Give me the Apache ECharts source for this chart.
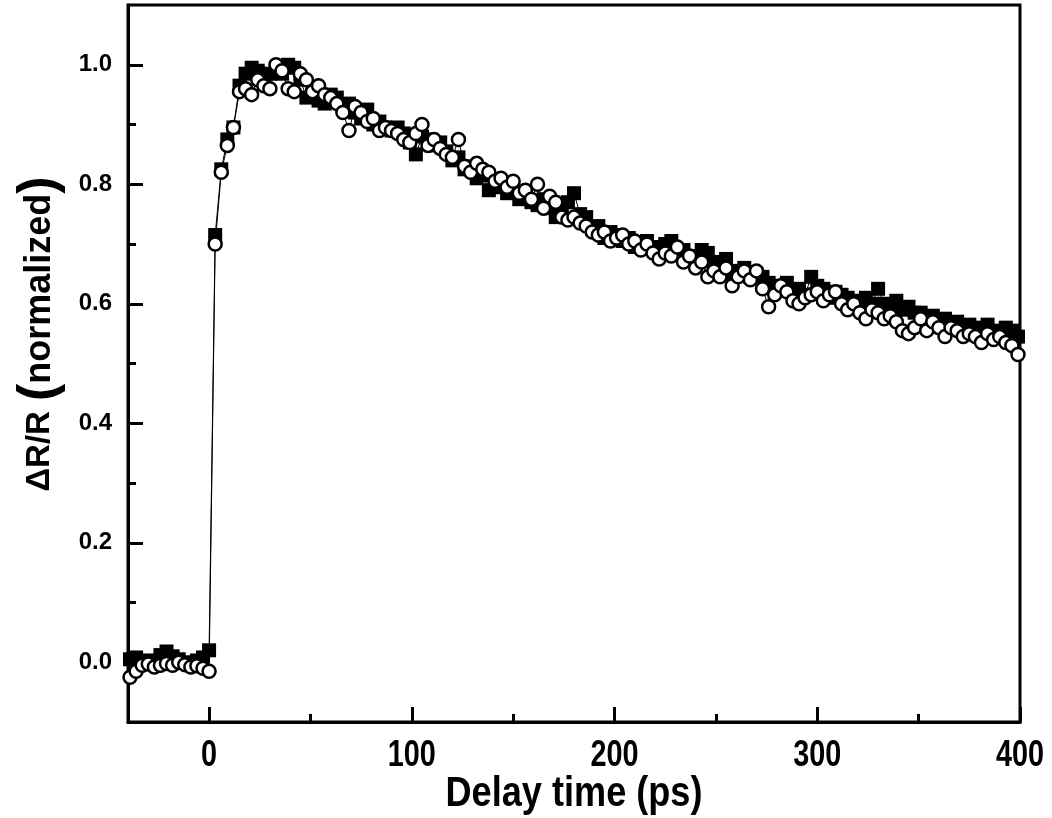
<!DOCTYPE html>
<html>
<head>
<meta charset="utf-8">
<title>Delay time</title>
<script src="https://cdn.jsdelivr.net/npm/echarts@6/dist/echarts.min.js"></script>
<style>
  html, body { margin: 0; padding: 0; background: #fff; }
  #main { width: 1052px; height: 818px; }
</style>
</head>
<body>
<div id="main"></div>
<script>
// delay times (ps), one point each 3 ps
var times = [
  -39, -36, -33, -30, -27, -24, -21, -18, -15, -12, -9, -6, -3,
  0, 3, 6, 9, 12, 15, 18, 21, 24, 27, 30, 33, 36, 39, 42, 45, 48,
  51, 54, 57, 60, 63, 66, 69, 72, 75, 78, 81, 84, 87, 90, 93, 96, 99,
  102, 105, 108, 111, 114, 117, 120, 123, 126, 129, 132, 135, 138, 141, 144, 147, 150,
  153, 156, 159, 162, 165, 168, 171, 174, 177, 180, 183, 186, 189, 192, 195, 198,
  201, 204, 207, 210, 213, 216, 219, 222, 225, 228, 231, 234, 237, 240, 243, 246, 249,
  252, 255, 258, 261, 264, 267, 270, 273, 276, 279, 282, 285, 288, 291, 294, 297, 300,
  303, 306, 309, 312, 315, 318, 321, 324, 327, 330, 333, 336, 339, 342, 345, 348,
  351, 354, 357, 360, 363, 366, 369, 372, 375, 378, 381, 384, 387, 390, 393, 396, 399
];

// filled squares
var squares = [
  0.005, 0.008, 0.0, 0.003, 0.0, 0.012, 0.018, 0.01, 0.005, 0.0, -0.002, 0.003, 0.008,
  0.02, 0.715, 0.825, 0.875, 0.895, 0.965, 0.985, 0.995, 0.99, 0.98, 0.985, 0.995, 0.985, 1.0, 0.995, 0.975, 0.945,
  0.955, 0.94, 0.935, 0.95, 0.945, 0.93, 0.935, 0.92, 0.91, 0.925, 0.9, 0.905, 0.895, 0.89, 0.895, 0.885, 0.87,
  0.85, 0.88, 0.875, 0.865, 0.87, 0.855, 0.84, 0.845, 0.825, 0.83, 0.81, 0.815, 0.79, 0.795, 0.8, 0.785, 0.79,
  0.775, 0.78, 0.77, 0.765, 0.775, 0.76, 0.745, 0.75, 0.77, 0.785, 0.75, 0.745, 0.725, 0.73, 0.71, 0.72,
  0.715, 0.705, 0.71, 0.695, 0.7, 0.705, 0.695, 0.68, 0.7, 0.705, 0.685, 0.69, 0.675, 0.68, 0.69, 0.685, 0.67,
  0.665, 0.675, 0.65, 0.655, 0.66, 0.645, 0.65, 0.645, 0.635, 0.63, 0.625, 0.635, 0.62, 0.625, 0.615, 0.645, 0.63,
  0.625, 0.61, 0.62, 0.615, 0.61, 0.6, 0.605, 0.61, 0.6, 0.625, 0.6, 0.595, 0.605, 0.59, 0.595, 0.585,
  0.585, 0.575, 0.58, 0.57, 0.575, 0.565, 0.57, 0.56, 0.565, 0.56, 0.555, 0.565, 0.555, 0.55, 0.56, 0.555, 0.545
];

// open circles
var circles = [
  -0.025, -0.015, -0.005, -0.003, -0.008, -0.005, -0.002, -0.005, 0.0, -0.004, -0.008, -0.006, -0.01,
  -0.015, 0.70, 0.82, 0.865, 0.895, 0.955, 0.96, 0.95, 0.975, 0.965, 0.96, 1.0, 0.99, 0.96, 0.955, 0.985, 0.975,
  0.955, 0.965, 0.95, 0.945, 0.935, 0.92, 0.89, 0.93, 0.92, 0.905, 0.91, 0.89, 0.895, 0.89, 0.885, 0.875, 0.87,
  0.885, 0.9, 0.865, 0.875, 0.86, 0.85, 0.845, 0.875, 0.83, 0.82, 0.835, 0.825, 0.82, 0.805, 0.81, 0.795, 0.805,
  0.785, 0.79, 0.775, 0.8, 0.76, 0.78, 0.77, 0.745, 0.74, 0.745, 0.735, 0.73, 0.72, 0.715, 0.72, 0.705,
  0.71, 0.715, 0.7, 0.705, 0.69, 0.7, 0.685, 0.675, 0.685, 0.68, 0.695, 0.67, 0.68, 0.66, 0.67, 0.645, 0.655,
  0.645, 0.66, 0.63, 0.645, 0.655, 0.64, 0.655, 0.625, 0.595, 0.615, 0.63, 0.62, 0.605, 0.6, 0.61, 0.615, 0.62,
  0.605, 0.615, 0.62, 0.6, 0.59, 0.6, 0.585, 0.575, 0.59, 0.585, 0.575, 0.58, 0.57, 0.555, 0.55, 0.56,
  0.575, 0.555, 0.57, 0.56, 0.545, 0.56, 0.555, 0.545, 0.55, 0.545, 0.535, 0.55, 0.54, 0.545, 0.535, 0.53, 0.515
];

var xMajor = [0, 100, 200, 300, 400];
var xMinor = [50, 150, 250, 350];
var yMajor = [0, 0.2, 0.4, 0.6, 0.8, 1.0];
var yMinor = [0.1, 0.3, 0.5, 0.7, 0.9];

function pairs(ys) {
  return times.map(function (t, i) { return [t, ys[i]]; });
}

var chart = echarts.init(document.getElementById('main'));

var boldFont = '"Liberation Sans", Arial, sans-serif';

var option = {
  animation: false,
  backgroundColor: '#fff',
  grid: {
    left: 128, right: 32, top: 5, bottom: 96,
    outerBoundsMode: 'none',
    show: true, borderColor: '#000', borderWidth: 3
  },
  xAxis: [
    {
      type: 'value', min: -40, max: 400, position: 'bottom',
      axisLine: { show: true, onZero: false, lineStyle: { color: '#000', width: 3 } },
      axisTick: { show: true, inside: true, length: 15, customValues: xMajor, lineStyle: { color: '#000', width: 3 } },
      // labels are drawn below as narrowed text
      axisLabel: { show: false },
      splitLine: { show: false }
    },
    {
      type: 'value', min: -40, max: 400, position: 'bottom',
      axisLine: { show: false, onZero: false },
      axisTick: { show: true, inside: true, length: 8, customValues: xMinor, lineStyle: { color: '#000', width: 3 } },
      axisLabel: { show: false },
      splitLine: { show: false }
    }
  ],
  yAxis: [
    {
      type: 'value', min: -0.1, max: 1.1, position: 'left',
      axisLine: { show: true, onZero: false, lineStyle: { color: '#000', width: 3 } },
      axisTick: { show: true, inside: true, length: 15, customValues: yMajor, lineStyle: { color: '#000', width: 3 } },
      axisLabel: {
        customValues: yMajor, margin: 16, color: '#000',
        fontFamily: boldFont, fontWeight: 'bold', fontSize: 24,
        formatter: function (v) { return v.toFixed(1); }
      },
      splitLine: { show: false }
    },
    {
      type: 'value', min: -0.1, max: 1.1, position: 'left',
      axisLine: { show: false, onZero: false },
      axisTick: { show: true, inside: true, length: 8, customValues: yMinor, lineStyle: { color: '#000', width: 3 } },
      axisLabel: { show: false },
      splitLine: { show: false }
    }
  ],
  series: [
    {
      name: 'squares', type: 'line', xAxisIndex: 0, yAxisIndex: 0,
      data: pairs(squares),
      symbol: 'rect', symbolSize: 14,
      itemStyle: { color: '#000', borderColor: '#000', borderWidth: 0 },
      lineStyle: { color: '#000', width: 1 },
      z: 2
    },
    {
      name: 'circles', type: 'line', xAxisIndex: 0, yAxisIndex: 0,
      data: pairs(circles),
      symbol: 'circle', symbolSize: 13,
      itemStyle: { color: '#fff', borderColor: '#000', borderWidth: 2.5 },
      lineStyle: { color: '#000', width: 1 },
      z: 3
    }
  ]
};

chart.setOption(option);

// narrow bold text (Arial Narrow look) for the x labels and title
var graphics = [];
xMajor.forEach(function (v) {
  graphics.push({
    type: 'text',
    x: chart.convertToPixel({ xAxisIndex: 0 }, v), y: 756,
    scaleX: 0.8,
    style: { text: String(v), fontFamily: boldFont, fontWeight: 'bold', fontSize: 36, fill: '#000', align: 'center', verticalAlign: 'middle' }
  });
});
graphics.push({
  type: 'text',
  x: chart.convertToPixel({ xAxisIndex: 0 }, 180), y: 794,
  scaleX: 0.84,
  style: { text: 'Delay time (ps)', fontFamily: boldFont, fontWeight: 'bold', fontSize: 43, fill: '#000', align: 'center', verticalAlign: 'middle' }
});
graphics.push({
  type: 'text', x: 40, y: 334, rotation: Math.PI / 2,
  style: {
    text: '{a|ΔR/R}   {p|(}{b|normalized}{p|)}',
    rich: {
      a: { fontFamily: boldFont, fontWeight: 'bold', fontSize: 33, fill: '#000', verticalAlign: 'middle' },
      b: { fontFamily: boldFont, fontWeight: 'bold', fontSize: 36, fill: '#000', verticalAlign: 'middle' },
      p: { fontFamily: boldFont, fontWeight: 'bold', fontSize: 52, fill: '#000', verticalAlign: 'middle' }
    },
    align: 'center', verticalAlign: 'middle'
  }
});
chart.setOption({ graphic: graphics });
</script>
</body>
</html>
